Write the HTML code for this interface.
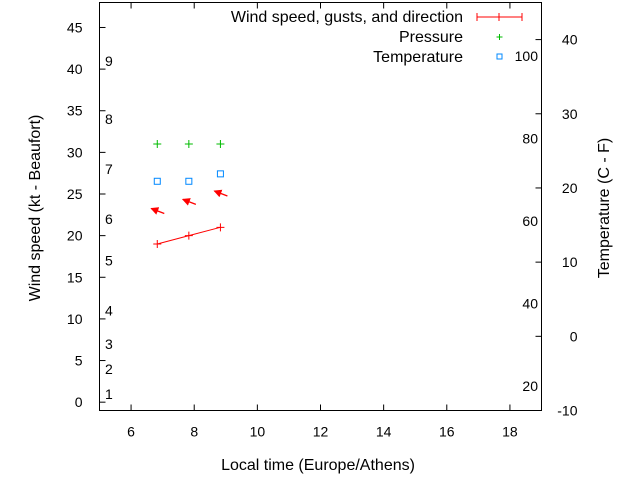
<!DOCTYPE html>
<html><head><meta charset="utf-8"><style>
body{margin:0;background:#fff}
svg text{font-family:"Liberation Sans",sans-serif;font-size:14px;fill:#000}
svg text.big{font-size:16px}
</style></head><body>
<svg width="640" height="480" xmlns="http://www.w3.org/2000/svg">
<defs><marker id="ah" markerWidth="8" markerHeight="8" refX="7" refY="4" orient="auto" markerUnits="userSpaceOnUse"><path d="M0,0L8,4L0,8z" fill="#f00"/></marker></defs>
<g id="axes"></g><g id="marks"></g><g id="legend"></g>
</svg>
<script>
const xTicks=[6,8,10,12,14,16,18];
const yTicks=[0,5,10,15,20,25,30,35,40,45];
const tTicks=[-10,0,10,20,30,40];
const fLabels=[20,40,60,80,100];
const bftLabels=[[1,1],[2,4],[3,7],[4,11],[5,17],[6,22],[7,28],[8,34],[9,41]];
const times=[6.83,7.83,8.83];
const wind=[19,20,21];
const gust=[22.9,24,25];
const pressure=[31,31,31];
const temp=[20.9,20.9,21.9];
const L=99.5,R=541.5,T=2.5,B=410.5;
const X=v=>L+(v-5)*(R-L)/14;
const Y=v=>B-(v+1)*(B-T)/49;
const TY=v=>B-(v+10)*(B-T)/55;
const FY=f=>TY((f-32)*5/9);
const ns="http://www.w3.org/2000/svg";
function mk(p,tag,a,txt){const e=document.createElementNS(ns,tag);for(const k in a)e.setAttribute(k,a[k]);if(txt!==undefined)e.textContent=txt;p.appendChild(e);return e;}
const ax=document.getElementById('axes'),mg=document.getElementById('marks'),lg=document.getElementById('legend');
let e=mk(ax,'rect',{x:L,y:T,width:R-L,height:B-T,fill:'none',stroke:'#000'});


xTicks.forEach(v=>{const x=X(v);
mk(ax,'line',{x1:x,x2:x,y1:B,y2:B-6,stroke:'#000'});mk(ax,'line',{x1:x,x2:x,y1:T,y2:T+6,stroke:'#000'});
e=mk(ax,'text',{x:x,y:B+26,'text-anchor':'middle'},v);

});
yTicks.forEach(v=>{const y=Y(v);
mk(ax,'line',{x1:L,x2:L+6,y1:y,y2:y,stroke:'#000'});
e=mk(ax,'text',{x:L-17,y:y+5,'text-anchor':'end'},v);

});
tTicks.forEach(v=>{const y=TY(v);
mk(ax,'line',{x1:R,x2:R-6,y1:y,y2:y,stroke:'#000'});
e=mk(ax,'text',{x:R+36,y:y+5,'text-anchor':'end'},v);

});
fLabels.forEach(f=>{e=mk(ax,'text',{x:538,y:FY(f)+5,'text-anchor':'end'},f);

});
bftLabels.forEach(([b,kt])=>{e=mk(ax,'text',{x:105,y:Y(kt)+5},b);

});
e=mk(ax,'text',{x:318,y:470,'text-anchor':'middle','class':'big'},'Local time (Europe/Athens)');


e=mk(ax,'text',{x:0,y:0,'text-anchor':'middle','class':'big',transform:'translate(40,208) rotate(-90)'},'Wind speed (kt - Beaufort)');


e=mk(ax,'text',{x:0,y:0,'text-anchor':'middle','class':'big',transform:'translate(609,208) rotate(-90)'},'Temperature (C - F)');


function plus(g,x,y,c,s){mk(g,'path',{d:`M${x-s},${y}H${x+s}M${x},${y-s}V${y+s}`,stroke:c,fill:'none'});}
e=mk(mg,'polyline',{points:times.map((t,i)=>X(t)+','+Y(wind[i])).join(' '),stroke:'#f00',fill:'none'});


times.forEach((t,i)=>{const x=X(t);
const g=mk(mg,'g',{});


plus(g,x,Y(wind[i]),'#f00',4);
const a=mk(mg,'line',{x1:x+7,y1:Y(gust[i])+2,x2:x-6,y2:Y(gust[i])-3,stroke:'#f00','stroke-width':1.3,'marker-end':'url(#ah)'});


const p=mk(mg,'g',{});


plus(p,x,Y(pressure[i]),'#0b0',4);
const q=mk(mg,'rect',{x:x-3,y:TY(temp[i])-3,width:6,height:6,fill:'none',stroke:'#08f'});

});
e=mk(lg,'text',{x:463,y:22,'text-anchor':'end','class':'big'},'Wind speed, gusts, and direction');


mk(lg,'path',{d:'M477,17H522M477,13V21M522,13V21M499,13V21',stroke:'#f00',fill:'none'});
e=mk(lg,'text',{x:463,y:42,'text-anchor':'end','class':'big'},'Pressure');


plus(lg,499.5,37,'#0b0',3);
e=mk(lg,'text',{x:463,y:62,'text-anchor':'end','class':'big'},'Temperature');


mk(lg,'rect',{x:497,y:54,width:5,height:5,fill:'none',stroke:'#08f'});
</script>
</body></html>
